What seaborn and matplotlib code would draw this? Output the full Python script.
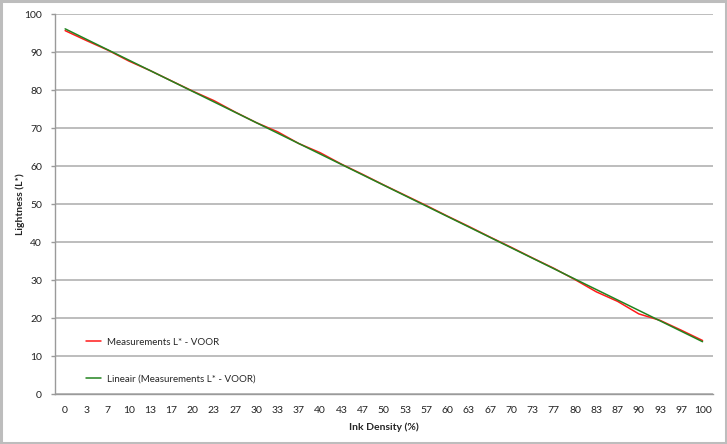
import numpy as np
import pandas as pd
import matplotlib
matplotlib.use('Agg')
import matplotlib.pyplot as plt
import seaborn as sns

# Data: ink density (category labels) en gemeten L*
ink_density = ['0', '3', '7', '10', '13', '17', '20', '23', '27', '30', '33',
               '37', '40', '43', '47', '50', '53', '57', '60', '63', '67',
               '70', '73', '77', '80', '83', '87', '90', '93', '97', '100']
lightness = [95.7, 93.1, 90.6, 87.7, 85.2, 82.5, 79.8, 77.3, 74.3, 71.5, 69.1,
             66.0, 63.6, 60.6, 57.9, 55.1, 52.4, 49.7, 46.9, 44.2, 41.4,
             38.7, 35.9, 33.2, 30.2, 27.0, 24.5, 21.2, 19.5, 16.9, 14.2]

red_label = 'Measurements L* - VOOR'
green_label = 'Lineair (Measurements L* - VOOR)'

df = pd.DataFrame({'idx': np.arange(len(ink_density)), 'L': lightness})

sns.set_style('white')
plt.rcParams['font.family'] = ['Lato', 'DejaVu Sans']

fig = plt.figure(figsize=(7.27, 4.44), dpi=100)
ax = fig.add_axes([0.075, 0.1115, 0.906, 0.8563])

# gemeten lijn
sns.lineplot(data=df, x='idx', y='L', color='#ff1a1a', linewidth=1.1,
             label=red_label, ax=ax)
# lineaire trendlijn
sns.regplot(data=df, x='idx', y='L', scatter=False, ci=None, truncate=True,
            color='#23841f', line_kws={'linewidth': 1.1},
            label=green_label, ax=ax)

ax.set_xlim(-0.5, len(ink_density) - 0.5)
ax.set_ylim(0, 100)
ax.set_yticks(range(0, 101, 10))
ax.set_xticks(df['idx'])
ax.set_xticklabels(ink_density)
ax.set_xticks(np.arange(-0.5, len(ink_density)), minor=True)

ax.yaxis.grid(True, color='#bdbdbd', linewidth=1.4)
ax.set_axisbelow(True)
for s in ['top', 'right']:
    ax.spines[s].set_visible(False)
for s in ['left', 'bottom']:
    ax.spines[s].set_color('#9a9a9a')
    ax.spines[s].set_linewidth(1.0)

ax.tick_params(axis='x', which='major', length=0, labelsize=7.5, pad=8,
               labelcolor='#222222')
ax.tick_params(axis='x', which='minor', length=3, color='#9a9a9a', width=1)
ax.tick_params(axis='y', length=3, color='#9a9a9a', width=1, labelsize=7.5,
               pad=6, labelcolor='#222222', left=True)

ax.set_xlabel('Ink Density (%)', fontsize=7.5, fontweight='bold', labelpad=6)
ax.set_ylabel('Lightness (L*)', fontsize=7.5, fontweight='bold')
ax.yaxis.set_label_coords(-0.045, 0.5)

ax.legend(loc='lower left', bbox_to_anchor=(0.035, 0.005), frameon=False,
          fontsize=7, handlelength=1.5, handletextpad=0.6, labelspacing=2.9)

# grijze rand rond de grafiek
fig.patches.append(plt.Rectangle((0.0015, 0.0025), 0.997, 0.995,
                                 transform=fig.transFigure, fill=False,
                                 edgecolor='#bdbdbd', linewidth=2.2))

fig.savefig('out.png', dpi=100)
